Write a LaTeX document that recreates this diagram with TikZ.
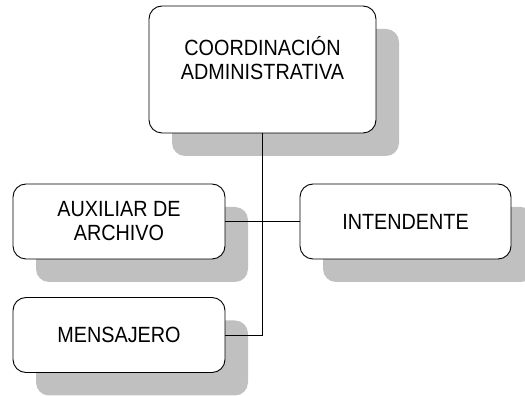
\documentclass[tikz,border=0pt]{standalone}
\usepackage{fontspec}
\setmainfont{Liberation Sans}
\newfontfamily\orgfont[FakeStretch=0.9]{Liberation Sans}
\usetikzlibrary{shadows}
\definecolor{shadowgray}{RGB}{192,192,192}

\begin{document}
\begin{tikzpicture}[x=1pt,y=1pt]
%%%%%%%%%%%%%%%%%%%%%%%%%%%%%%%%%%%%%%%%%%%%%%%%%%%%%%%%%%%%%%
%boxes
\tikzstyle{unit}=[rectangle,rounded corners=13pt,draw=black,fill=white,line width=0.9pt,align=center,font=\orgfont\fontsize{22}{24}\selectfont,inner sep=0pt,drop shadow={shadow xshift=23pt,shadow yshift=-23pt,fill=shadowgray,opacity=1}]
\tikzstyle{line}=[draw=black,line width=0.9pt]
\useasboundingbox (0,0) rectangle (525,396);
%nodes
\node[unit,minimum width=227pt,minimum height=127pt] (coord) at (262.5,326.5) {COORDINACIÓN\\ADMINISTRATIVA\\\mbox{}};
\node[unit,minimum width=212pt,minimum height=75pt] (aux) at (119,174.5) {AUXILIAR DE\\ARCHIVO};
\node[unit,minimum width=211pt,minimum height=75pt] (inten) at (405.5,174.5) {INTENDENTE};
\node[unit,minimum width=212pt,minimum height=75pt] (mens) at (119,61) {MENSAJERO};
%%%%%%%%%%%%%%%%%%%%%%%%%%%%%%%%%%%%%%%%%%%%%%%%%%%%%%%%%%%%%%
%LINES
\draw[line] (coord.south) |- (mens.east);
\draw[line] (aux.east) -- (inten.west);
\end{tikzpicture}
\end{document}
